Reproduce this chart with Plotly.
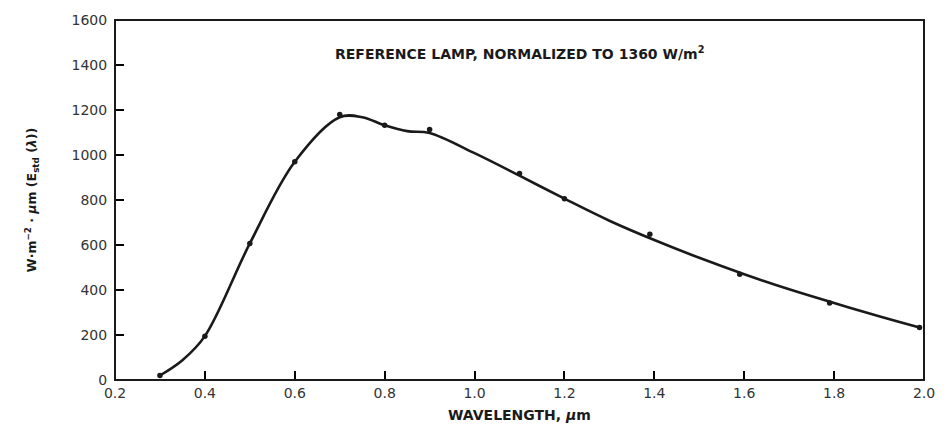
import plotly.graph_objects as go

# measured lamp points
wl_points = [0.30, 0.40, 0.50, 0.60, 0.70, 0.80, 0.90, 1.10, 1.20, 1.39, 1.59, 1.79, 1.99]
e_points = [20, 195, 607, 970, 1180, 1132, 1113, 918, 806, 648, 470, 342, 233]

# smooth reference curve
wl_curve = [0.30, 0.35, 0.40, 0.50, 0.60, 0.70, 0.75, 0.80, 0.85, 0.90,
            1.00, 1.10, 1.20, 1.30, 1.40, 1.50, 1.60, 1.70, 1.80, 1.90, 1.99]
e_curve = [20, 88, 195, 607, 970, 1168, 1168, 1132, 1106, 1098,
           1008, 908, 806, 708, 622, 543, 470, 403, 342, 283, 233]

x_ticks = [0.2, 0.4, 0.6, 0.8, 1.0, 1.2, 1.4, 1.6, 1.8, 2.0]
y_ticks = [0, 200, 400, 600, 800, 1000, 1200, 1400, 1600]

FONT = "DejaVu Sans"
INK = "#1a1a1a"

fig = go.Figure()
fig.add_trace(go.Scatter(
    x=wl_curve, y=e_curve, mode="lines",
    line=dict(color=INK, width=2.6, shape="spline", smoothing=1.0),
    hoverinfo="skip", showlegend=False,
))
fig.add_trace(go.Scatter(
    x=wl_points, y=e_points, mode="markers",
    marker=dict(color=INK, size=5.5),
    showlegend=False,
))

fig.add_annotation(
    x=1.1, y=1455, xref="x", yref="y", showarrow=False,
    text="<b>REFERENCE LAMP, NORMALIZED TO 1360 W/m<sup>2</sup></b>",
    font=dict(family=FONT, size=14, color=INK),
)

# y-axis title as a rotated annotation left of the tick labels
fig.add_annotation(
    x=-0.116, y=0.5, xref="paper", yref="paper", showarrow=False,
    textangle=-90,
    text="<b>W·m<sup>−2</sup> · <i>μ</i>m (E<sub>std</sub> (<i>λ</i>))</b>",
    font=dict(family=FONT, size=12.5, color=INK),
)

# heavier frame around the plot area
fig.add_shape(type="rect", xref="paper", yref="paper", x0=0, y0=0, x1=1, y1=1,
              line=dict(color=INK, width=2), layer="above")

fig.update_xaxes(
    range=[0.2, 2.0], tickvals=x_ticks, ticktext=[f"{v:.1f}" for v in x_ticks],
    ticks="inside", ticklen=9, tickwidth=2, tickcolor="black",
    showline=True, linecolor="black", mirror=True, showgrid=False,
    tickfont=dict(family=FONT, size=14, color="#333"),
    title=dict(text="<b>WAVELENGTH, <i>μ</i>m</b>", font=dict(family=FONT, size=14, color=INK), standoff=10),
)
fig.update_yaxes(
    range=[0, 1600], tickvals=y_ticks,
    ticks="inside", ticklen=9, tickwidth=2, tickcolor="black",
    showline=True, linecolor="black", mirror=True, showgrid=False,
    tickfont=dict(family=FONT, size=14, color="#333"),
    ticklabelstandoff=4,
)

fig.update_layout(
    width=947, height=433,
    margin=dict(l=115, r=15, t=14, b=51),
    paper_bgcolor="white", plot_bgcolor="white",
)

# drop the default 8px body margin so the figure fills the window
fig.write_html(
    "out.html",
    config={"displayModeBar": False},
    post_script="document.body.style.margin='0';document.body.style.overflow='hidden';",
)
